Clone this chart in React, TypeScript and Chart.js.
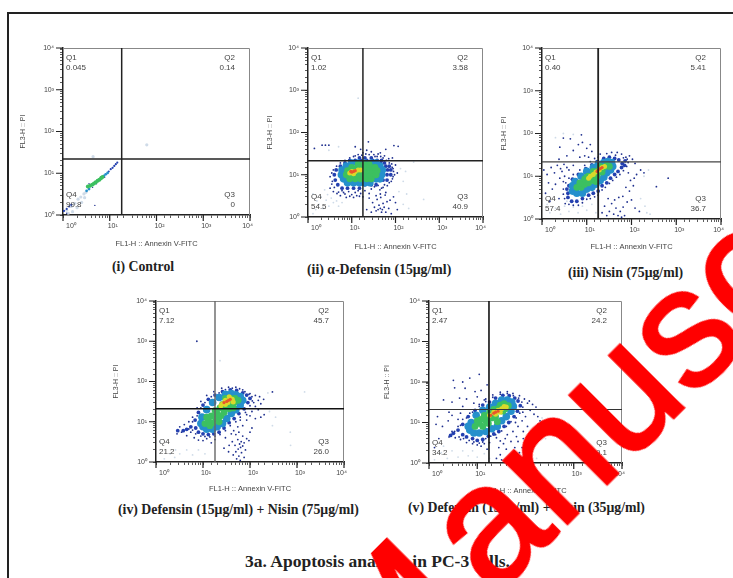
import React, { useEffect, useRef } from "react";
import { Chart, registerables } from "chart.js";

Chart.register(...registerables);

type Pt = [number, number];

const tickValues = [1, 10, 100, 1000, 10000];
const tickLabels = ["10⁰", "10¹", "10²", "10³", "10⁴"];
const xTitle = "FL1-H :: Annexin V-FITC";
const yTitle = "FL3-H :: PI";

const gateX = [18, 18, 18, 18, 17.5];
const gateY = [22, 21.4, 21.7, 21, 21];

const quadNames = ["Q1", "Q2", "Q3", "Q4"];
const quadValues = [
  ["0.045", "0.14", "0", "99.8"],
  ["1.02", "3.58", "40.9", "54.5"],
  ["0.40", "5.41", "36.7", "57.4"],
  ["7.12", "45.7", "26.0", "21.2"],
  ["2.47", "24.2", "39.1", "34.2"],
];

const captions = [
  "(i) Control",
  "(ii) α-Defensin (15μg/ml)",
  "(iii) Nisin (75μg/ml)",
  "(iv) Defensin (15μg/ml) + Nisin (75μg/ml)",
  "(v) Defensin (15μg/ml) + Nisin (35μg/ml)",
];
const figureTitle = "3a. Apoptosis analysis in PC-3 cells.";
const watermarkHead = "M";
const watermarkTail = "anuscript";

// Panel (i)
const c1Pale: Pt[] = [[1.2,1.3],[1.5,1.6],[1.8,1.9],[2.1,2.4],[2.4,2.7],[2.8,3.2],[3.1,3.5],[1.6,1.2],[2,1.5],[2.5,2],[1.3,1.1],[2.9,2.6],[62,48],[4.4,25]];
const c1Speck: Pt[] = [[4.8,1.7],[3.6,5.6],[5.2,5.6],[6.4,8.2],[7.8,8],[4.3,4.6],[1.2,1.1]];
const c1Blue: Pt[] = [[1.05,1.25],[1.2,1.4],[1.35,1.6],[1.5,1.75],[9.5,11],[10.5,12.5],[11.5,13.5],[12.5,15],[13.5,16.5],[14.5,18]];
const c1Teal: Pt[] = [[3.2,3.8],[3.6,4.2],[7.5,8.6],[8.2,9.4],[9,10.2]];
const c1Green: Pt[] = [[3.4,4.8],[3.8,5],[4.2,5.3],[4.6,5.7],[5,6.1],[5.5,6.6],[6,7],[6.5,7.6],[7,8.1]];

// Panel (ii)
const c2Pale: Pt[] = [[1.5,1.5],[1.8,2],[2.2,1.6],[2.6,2.5],[3,1.8],[3.4,2.8],[2.8,3.4],[2,3],[1.6,2.4],[1.3,1.2],[3.8,2.2],[4.5,2.4],[5,1.8],[6,2.2],[1.3,3.5],[2.4,4.4],[130,14],[170,12],[260,20],[150,7],[120,4],[440,2.6],[150,2],[180,3.5],[200,1.6],[14,650],[5,46],[3,38]];
const c2Speck: Pt[] = [[3.5,6],[3.2,4.8],[3.8,4],[4.6,3.6],[5.5,3.2],[6.5,3.8],[7.5,2.9],[8.5,4],[10,3.4],[12,3.8],[14,4.2],[16,3.6],[18,3],[20,4.2],[25,3.6],[28,4.6],[33,5.2],[40,5.6],[48,4.8],[56,5.8],[45,3.5],[36,3.2],[60,3.8],[72,6.5],[85,8],[95,10],[110,11],[88,14],[82,18],[70,24],[56,28],[40,31],[28,35],[18,33],[12,28],[16,40],[22,38],[34,27],[45,33],[60,40],[85,25],[100,17],[40,1.5],[45,1.6],[50,1.5],[42,1.9],[48,1.3],[55,1.7],[36,1.4],[60,1.3],[52,2.1],[30,2.2],[33,1.7],[28,1.3],[70,1.6],[80,1.2],[64,2.3],[38,2.6],[46,2.9],[25,2.8],[75,2.5],[90,3],[100,2.2],[110,1.5],[22,1.5],[58,3.3],[2.1,50],[2.5,50],[3,50],[1.4,42],[12,46],[24,60],[92,49],[115,47],[5,3.9],[6,4.2],[7,3.5],[9,3.1],[11,2.9],[13,3.2],[15,3.1],[4,5],[3.6,7],[3.2,9],[3.5,11],[3.8,13],[4.5,16],[5.5,19],[7,22],[9,25],[11,27],[14,30],[17,29],[21,31],[25,30],[32,30],[38,27],[46,27],[52,25],[62,22],[72,19],[84,15],[90,12],[88,9],[80,7],[65,5.5],[52,5],[44,4.4]];
const c2Blue: Pt[] = [[6,4.8],[8,4.8],[11,4.8],[15,4.8],[4.8,5.8],[20,5.8],[28,5.8],[36,5.8],[4.2,7.5],[52,7.5],[64,7.5],[4,10],[64,10],[78,10],[4.4,13],[66,13],[78,13],[5.5,16],[60,16],[72,16],[7,19],[46,19],[56,19],[9,22],[12,22],[16,22],[22,22],[30,22],[38,22],[48,22],[15,25],[20,25],[28,25]];
const c2Teal: Pt[] = [[8,6.5],[11,6.5],[15,6.5],[20,6.5],[26,6.5],[6.5,8],[36,8],[44,8],[5.8,10],[48,10],[6,13],[50,13],[7.5,16],[44,16],[10,19],[14,19],[20,19],[28,19],[36,19]];
const c2Green: Pt[] = [[9,8],[12,8],[16,8],[22,8],[28,8],[7.5,10],[10,10],[14,10],[19,10],[26,10],[36,10],[8,12.5],[11,12.5],[15,12.5],[20,12.5],[28,12.5],[38,12.5],[10,15],[14,15],[19,15],[26,15],[34,15],[14,17.5],[19,17.5],[25,17.5]];
const c2Yellow: Pt[] = [[9,11],[10,12],[12,12],[14,13],[11,10.5],[16,13]];
const c2Red: Pt[] = [[11,12],[10,11.5],[12,12.5],[9.5,12]];

// Panel (iii)
const c3Pale: Pt[] = [[1.5,1.4],[2,1.8],[2.6,1.3],[3.2,2],[4,1.5],[5,1.9],[6.4,1.4],[8,2],[10,1.6],[13,2.2],[16,1.4],[1.3,2.2],[3.6,2.6],[200,2],[220,1.4],[260,1.3],[160,3],[190,10],[240,14],[3,100],[2,80],[5,95]];
const c3Speck: Pt[] = [[1.1,14],[1.3,11],[1.6,16],[1.9,12],[2.2,18],[2.5,9],[1.4,7],[1.7,5],[2,6.5],[2.8,13],[3.2,10],[1.2,4],[1.5,2.6],[2.4,3],[3,7.5],[3.6,16],[3.1,19],[4,14],[5,18],[2.6,15],[2.5,48],[3,78],[4.3,75],[7.6,93],[8,62],[6.5,55],[10,45],[12,55],[13,38],[9,30],[5,40],[3.6,30],[2.4,25],[7,28],[11,28],[25,2],[32,1.5],[40,1.3],[50,1.2],[45,1.8],[56,1.5],[36,2.3],[60,1.1],[28,1.2],[65,1.9],[22,1.4],[70,1.2],[42,2.8],[52,3.2],[30,3],[64,3.4],[80,2.5],[100,2.8],[120,1.8],[150,1.5],[90,4.5],[75,5.5],[110,6],[95,8],[130,11],[115,9],[85,12],[160,14],[190,12],[360,5.7],[660,9],[20,33],[28,34],[36,36],[48,36],[60,33],[75,28],[90,30],[105,25],[120,20],[44,31],[18,28],[3.2,3],[3.3,2.3],[4,2.2],[5,2.1],[6.5,2.1],[8,2.4],[10,2.9],[12,3],[15,3.3],[18,3.6],[22,4.8],[26,5.5],[32,6.8],[38,8],[46,9.5],[55,11],[66,13.5],[78,17],[84,21],[80,25],[66,27],[3,3.8],[3,5],[3.4,7],[4,9],[5,11],[7,14],[9,18],[12,22],[15,26]];
const c3Blue: Pt[] = [[3.8,4],[3.8,3.2],[4.6,2.6],[6,2.6],[8,3],[11,3.6],[14,4],[18,4.5],[22,6],[28,7],[34,9],[42,11],[50,13],[60,16],[62,20],[52,24],[42,26],[32,28],[24,26],[17,22],[13,18.5],[9.5,15],[6.5,11],[4.8,8.5],[4,6],[3.6,5],[70,18],[72,23]];
const c3Teal: Pt[] = [[4.8,4.5],[6,4],[8,4],[10,5],[13,5.5],[16,6.5],[20,8],[24,9.5],[28,12],[34,14],[38,17],[36,21],[30,22],[24,21],[18,19],[14,16],[10,13],[7.5,10],[5.5,7.5],[4.8,6]];
const c3Green: Pt[] = [[6,5.5],[7.5,5.5],[9,6.5],[7,7],[9,8.5],[11,7],[11,10],[13,8],[14,10.5],[10,9.5],[17,10],[18,13.5],[14,13],[22,12.5],[24,16],[20,17],[28,18],[32,17],[16,7.5]];
const c3Yellow: Pt[] = [[12,10],[14,11],[16,12.5],[19,14],[22,16],[25,17],[11,9]];
const c3Red: Pt[] = [[20,15],[18,14],[22,16],[17,13]];

// Panel (iv)
const c4Pale: Pt[] = [[1.5,1.2],[2,1.6],[2.6,2],[1.2,3.2],[3.2,1.6],[4.5,2],[6,1.5],[8,2],[11,1.6],[240,52],[1450,55],[730,2.6],[720,5.5],[300,8],[350,13],[260,18],[23,330],[2.5,1.3]];
const c4Speck: Pt[] = [[2.8,5],[3.5,5.5],[4.5,4.5],[5.5,5.5],[6.5,4],[8,3.5],[10,3.4],[12,3.8],[15,3],[18,3.6],[3.2,7.5],[4,8.5],[5,10],[6,13],[7.5,22],[9,32],[12,45],[17,56],[25,68],[35,72],[50,72],[70,62],[100,50],[130,45],[160,42],[195,36],[170,28],[130,24],[110,18],[100,14],[85,11],[70,8],[55,7.5],[45,6],[120,30],[150,20],[200,15],[170,13],[130,12],[85,15],[62,11],[58,5.5],[150,34],[63,2.3],[56,2.1],[70,2.5],[60,2.8],[50,1.8],[66,1.7],[75,3],[48,2.6],[58,1.4],[52,1.2],[44,1.5],[80,2],[42,3.2],[36,2.6],[30,4],[85,3.8],[95,3.4],[70,4.4],[50,4.8],[40,5],[100,5.5],[62,1.1],[75,1.3],[35,1.8],[110,7],[55,3.6],[65,3.2],[28,2.2],[300,55],[7.4,1000],[7,5],[6,6.2],[5,6.6],[9,4.4],[11,4.3],[14,4.2],[18,4.4],[23,4.8],[30,6],[38,8],[50,10],[62,13],[80,17],[100,25],[112,33],[110,42],[95,48],[78,56],[60,66],[42,68],[30,63],[22,52],[15,42],[11,30],[9,22],[7.5,14],[6,10]];
const c4Blue: Pt[] = [[7,7],[8,5.5],[10,5],[13,4.8],[17,5],[22,5.5],[28,7],[36,9.5],[46,12],[58,16],[75,21],[90,30],[100,38],[85,46],[70,52],[52,60],[38,62],[26,56],[18,46],[13,36],[10,26],[8,17],[6.8,11],[5.5,7.5],[4.5,6.5],[3.8,6],[2.9,6]];
const c4Teal: Pt[] = [[10,7.5],[12,6.5],[16,6.5],[20,7.5],[26,9],[32,12],[40,16],[50,20],[62,26],[70,34],[62,42],[50,47],[40,50],[30,48],[22,40],[16,30],[12,20],[9.5,13],[9,9]];
const c4Green: Pt[] = [[11,9],[13,11],[16,9.5],[19,12],[15,14],[12,13],[20,16],[24,14],[28,17],[18,19],[23,22],[30,23],[36,21],[26,27],[32,29],[40,27],[46,30],[38,38],[30,38],[48,38],[56,34],[44,22],[22,10],[14,8]];
const c4Yellow: Pt[] = [[26,28],[30,34],[34,30],[38,38],[42,36],[36,42],[30,27],[44,31],[24,25]];
const c4Red: Pt[] = [[35,34],[32,32],[38,36],[28,30]];

// Panel (v)
const c5Pale: Pt[] = [[1.3,1.2],[1.8,1.8],[2.4,1.3],[3,2],[4,1.4],[5,2],[6.5,1.5],[8,2],[10,1.4],[14,1.7],[18,1.3],[2,2.6],[170,1.3],[90,1.2],[220,6],[260,4],[220,13],[250,10]];
const c5Speck: Pt[] = [[10,2.8],[12,2.6],[8,3],[14,3],[16,2.2],[18,3.2],[6,3.2],[4.5,3.8],[3.5,4.2],[3,6],[4,8],[5,12],[7,17],[11,28],[15,38],[21,48],[30,56],[42,58],[55,52],[75,46],[95,38],[120,34],[140,28],[165,24],[125,20],[100,14],[85,11],[70,8],[55,6],[42,5],[30,3.5],[25,4.2],[150,16],[180,14],[200,11],[110,8],[90,6],[180,9],[62,10],[110,30],[88,18],[1.5,14],[2.5,11],[1.9,8],[1.4,9],[1.6,4],[1.3,2.4],[2,36],[3,32],[4.3,40],[6,38],[8.5,30],[10,43],[14,36],[12,62],[9,58],[5.6,70],[3.4,72],[16,85],[11,155],[7,125],[5,100],[3.2,110],[4,12],[3,15],[2.6,18],[5,25],[4.5,17],[35,3],[28,2.4],[40,2.2],[50,3.4],[60,2.4],[70,3.4],[85,2.4],[75,1.8],[55,1.6],[45,1.4],[100,3],[110,2],[120,4],[38,4],[30,1.6],[25,1.3],[65,4.5],[90,4],[130,6],[140,2.8],[32,1.2],[4.2,4.4],[5.2,4],[6.8,3.6],[8.5,3.3],[11,3.1],[13,3.3],[15,4],[19,4.6],[24,5],[32,6.2],[40,8],[50,10.5],[64,13],[76,17],[88,24],[84,32],[72,40],[56,46],[42,52],[30,50],[21,42],[15,33],[11,25],[8,18],[6,13],[4.5,8.5],[3.4,6],[2.6,4.4]];
const c5Blue: Pt[] = [[5,5],[6,4.4],[8,4],[10,3.6],[13,3.8],[17,4.6],[22,5.2],[28,6],[36,8],[45,10],[58,14],[68,19],[78,26],[70,34],[60,40],[46,46],[34,47],[24,40],[18,32],[13,27],[9,20],[6.5,14],[5,9],[4,6.5],[3.2,5.4],[2.8,4.8]];
const c5Teal: Pt[] = [[7,6.5],[8.5,5.5],[11,5.5],[15,6],[20,7],[26,8],[32,11],[40,14],[50,19],[56,25],[52,32],[42,36],[32,36],[24,30],[18,24],[13,20],[9.5,15],[7.5,10],[6.5,8]];
const c5Green: Pt[] = [[9,8],[11,9.5],[13,8],[15,11],[12,12],[16,14],[20,13],[24,14],[18,18],[14,15],[22,21],[28,23],[34,19],[38,22],[30,27],[36,29],[44,26],[17,9.5],[10,11],[26,10.5]];
const c5Yellow: Pt[] = [[18,15],[22,18],[27,20],[32,22],[36,25],[24,16],[30,18],[40,24]];
const c5Red: Pt[] = [[22,17],[27,19],[24,18],[19,15]];

const bandColors = ["#cfdbe8", "#1e2f8e", "#2440b0", "#2590cc", "#3cc060", "#d9d92a", "#e8562a"];
const bandRadii = [0.9, 0.9, 1.9, 3.8, 3.4, 2.5, 1.6];
const controlRadii = [1.6, 0.7, 1.1, 1.4, 2, 0, 0];

const panelBands: Pt[][][] = [
  [c1Pale, c1Speck, c1Blue, c1Teal, c1Green, [], []],
  [c2Pale, c2Speck, c2Blue, c2Teal, c2Green, c2Yellow, c2Red],
  [c3Pale, c3Speck, c3Blue, c3Teal, c3Green, c3Yellow, c3Red],
  [c4Pale, c4Speck, c4Blue, c4Teal, c4Green, c4Yellow, c4Red],
  [c5Pale, c5Speck, c5Blue, c5Teal, c5Green, c5Yellow, c5Red],
];

// layout: plot rectangle, y-axis width, x-axis height
const plotRects = [
  { l: 63, r: 250, t: 48, b: 215, w: 44, h: 33 },
  { l: 308, r: 483, t: 48, b: 217, w: 42, h: 34 },
  { l: 542, r: 721, t: 48, b: 219, w: 42, h: 32 },
  { l: 156, r: 344, t: 301, b: 462, w: 44, h: 31 },
  { l: 429, r: 622, t: 301, b: 463, w: 46, h: 32 },
];
const captionPos = [
  { x: 112, y: 267 },
  { x: 307, y: 270 },
  { x: 568, y: 273 },
  { x: 118, y: 510 },
  { x: 408, y: 508 },
];
const gateStyles = [
  { vc: "#222", hc: "#222", vw: 1.5, hw: 1.5 },
  { vc: "#222", hc: "#222", vw: 1.5, hw: 1.5 },
  { vc: "#222", hc: "#444", vw: 1.8, hw: 1.3 },
  { vc: "#666", hc: "#111", vw: 1.4, hw: 1.6 },
  { vc: "#111", hc: "#333", vw: 1.6, hw: 1.1 },
];

const PAD_TOP = 12;
const PAD_RIGHT = 10;
const sans = "'Liberation Sans', Arial, sans-serif";

function Panel({ index }: { index: number }) {
  const ref = useRef<HTMLCanvasElement>(null);
  const rect = plotRects[index];
  const cw = rect.w + (rect.r - rect.l) + PAD_RIGHT;
  const ch = PAD_TOP + (rect.b - rect.t) + rect.h;

  useEffect(() => {
    const radii = index === 0 ? controlRadii : bandRadii;
    const bands = panelBands[index];
    const gate = gateStyles[index];
    const scatter = bands.map((pts, i) => ({
      data: pts.map(([x, y]) => ({ x, y })),
      backgroundColor: bandColors[i],
      borderWidth: 0,
      pointRadius: radii[i],
      pointStyle: "circle" as const,
      showLine: false,
      order: 20 - i,
    }));
    const lines = [
      {
        data: [{ x: gateX[index], y: 1 }, { x: gateX[index], y: 10000 }],
        borderColor: gate.vc,
        borderWidth: gate.vw,
        pointRadius: 0,
        showLine: true,
        order: 1,
      },
      {
        data: [{ x: 1, y: gateY[index] }, { x: 10000, y: gateY[index] }],
        borderColor: gate.hc,
        borderWidth: gate.hw,
        pointRadius: 0,
        showLine: true,
        order: 0,
      },
    ];
    const decor = {
      id: "flowDecor",
      beforeDatasetsDraw(chart: any) {
        const { left, right, top, bottom } = chart.chartArea;
        const ctx = chart.ctx;
        ctx.save();
        ctx.strokeStyle = "#888";
        ctx.lineWidth = 1;
        ctx.beginPath();
        ctx.moveTo(left, top + 0.5);
        ctx.lineTo(right - 0.5, top + 0.5);
        ctx.lineTo(right - 0.5, bottom);
        ctx.stroke();
        ctx.restore();
      },
      afterDatasetsDraw(chart: any) {
        const { left, right, top, bottom } = chart.chartArea;
        const ctx = chart.ctx;
        ctx.save();
        ctx.strokeStyle = "#222";
        ctx.lineWidth = 1.2;
        for (const v of tickValues) {
          const px = chart.scales.x.getPixelForValue(v);
          const py = chart.scales.y.getPixelForValue(v);
          ctx.beginPath();
          ctx.moveTo(px, bottom);
          ctx.lineTo(px, bottom + 6);
          ctx.moveTo(left, py);
          ctx.lineTo(left - 7, py);
          ctx.stroke();
        }
        ctx.fillStyle = "#444";
        ctx.font = `8px ${sans}`;
        ctx.textBaseline = "middle";
        const vals = quadValues[index];
        const put = (n: number, x: number, y: number, align: CanvasTextAlign) => {
          ctx.textAlign = align;
          ctx.fillText(quadNames[n], x, y);
          ctx.fillText(vals[n], x, y + 10);
        };
        put(0, left + 3, top + 10, "left");
        put(1, right - 15, top + 10, "right");
        put(2, right - 15, bottom - 20, "right");
        put(3, left + 3, bottom - 20, "left");
        ctx.restore();
      },
    };
    const tickText = (v: number | string) => {
      const i = tickValues.indexOf(Number(v));
      return i >= 0 ? tickLabels[i] : "";
    };
    const axisGrid = {
      display: true,
      drawOnChartArea: false,
      drawTicks: true,
      tickLength: 3,
      tickColor: "#333",
      tickWidth: 0.8,
    };
    const chart = new Chart(ref.current as HTMLCanvasElement, {
      type: "scatter",
      data: { datasets: [...lines, ...scatter] as any },
      plugins: [decor],
      options: {
        animation: false,
        responsive: false,
        maintainAspectRatio: false,
        layout: { padding: { top: PAD_TOP, right: PAD_RIGHT, left: 0, bottom: 0 } },
        plugins: { legend: { display: false }, tooltip: { enabled: false } },
        scales: {
          x: {
            type: "logarithmic",
            min: 1,
            max: 10000,
            grid: axisGrid,
            border: { display: true, color: "#222", width: 1.5 },
            ticks: {
              autoSkip: false,
              maxRotation: 0,
              minRotation: 0,
              padding: 4,
              align: "inner",
              labelOffset: 3,
              color: "#444",
              font: { family: sans, size: 7 },
              callback: tickText,
            },
            title: {
              display: true,
              text: xTitle,
              color: "#444",
              padding: 0,
              font: { family: sans, size: 7.5 },
            },
            afterFit: (s: any) => {
              s.height = rect.h;
            },
          },
          y: {
            type: "logarithmic",
            min: 1,
            max: 10000,
            grid: axisGrid,
            border: { display: true, color: "#222", width: 1.5 },
            ticks: {
              autoSkip: false,
              padding: 6,
              color: "#444",
              font: { family: sans, size: 7 },
              callback: tickText,
            },
            title: {
              display: true,
              text: yTitle,
              color: "#444",
              padding: 0,
              font: { family: sans, size: 7 },
            },
            afterFit: (s: any) => {
              s.width = rect.w;
            },
          },
        },
      } as any,
    });
    return () => chart.destroy();
  }, [index]);

  return (
    <canvas
      ref={ref}
      width={cw}
      height={ch}
      style={{
        position: "absolute",
        left: rect.l - rect.w,
        top: rect.t - PAD_TOP,
        width: cw,
        height: ch,
        filter: "blur(0.4px)",
      }}
    />
  );
}

export default function App() {
  return (
    <div
      style={{
        position: "absolute",
        left: 0,
        top: 0,
        width: 733,
        height: 578,
        overflow: "hidden",
        background: "#fff",
      }}
    >
      <div
        style={{
          position: "absolute",
          left: 7,
          top: 12,
          width: 740,
          height: 580,
          borderTop: "2px solid #222",
          borderLeft: "2px solid #222",
        }}
      />
      {plotRects.map((_, i) => (
        <Panel key={i} index={i} />
      ))}
      {captions.map((text, i) => (
        <div
          key={text}
          style={{
            position: "absolute",
            left: captionPos[i].x,
            top: captionPos[i].y - 8,
            lineHeight: "16px",
            whiteSpace: "nowrap",
            fontFamily: "'Liberation Serif', serif",
            fontWeight: 700,
            fontSize: 13.8,
            color: "#222",
          }}
        >
          {text}
        </div>
      ))}
      <div
        style={{
          position: "absolute",
          left: 245,
          top: 551,
          lineHeight: "20px",
          whiteSpace: "nowrap",
          fontFamily: "'Liberation Serif', serif",
          fontWeight: 700,
          fontSize: 17.5,
          color: "#222",
        }}
      >
        {figureTitle}
      </div>
      <div
        style={{
          position: "absolute",
          left: 380,
          top: 553,
          lineHeight: "200px",
          whiteSpace: "nowrap",
          fontFamily: "'Liberation Sans', Arial, sans-serif",
          fontSize: 168,
          color: "#ff0000",
          WebkitTextStroke: "3px #ff0000",
          transform: "rotate(-45deg)",
          transformOrigin: "0 158px",
        }}
      >
        <span style={{ letterSpacing: 20 }}>{watermarkHead}</span>
        {watermarkTail}
      </div>
    </div>
  );
}
